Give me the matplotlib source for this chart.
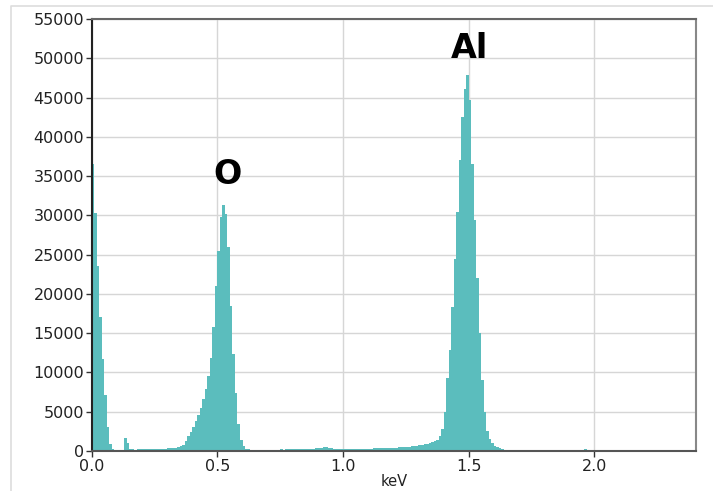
import numpy as np
import matplotlib
matplotlib.use("Agg")
import matplotlib.pyplot as plt
from matplotlib.lines import Line2D

# EDS spectrum: counts per 10 eV channel, starting at 0 keV
channel_start = 0.0
channel_width = 0.01
counts = [
    36500, 30300, 23600, 17100, 11700, 7100, 3000, 900, 200, 0,          # 0.00
    0, 0, 0, 1600, 1000, 300, 200, 190, 200, 210,                         # 0.10
    200, 210, 220, 210, 230, 250, 280, 290, 280, 300,                     # 0.20
    320, 350, 380, 420, 480, 600, 800, 1250, 1850, 2400,                  # 0.30
    3100, 3800, 4600, 5500, 6600, 7900, 9500, 11800, 15800, 21000,        # 0.40
    25500, 29800, 31300, 30200, 26000, 18500, 12300, 7400, 3500, 1400,    # 0.50
    600, 300, 200, 180, 180, 170, 180, 170, 160, 170,                     # 0.60
    180, 170, 180, 190, 180, 200, 190, 200, 210, 220,                     # 0.70
    230, 220, 240, 230, 250, 260, 270, 280, 300, 320,                     # 0.80
    350, 400, 450, 480, 420, 360, 300, 260, 240, 230,                     # 0.90
    220, 230, 240, 230, 250, 260, 270, 280, 290, 300,                     # 1.00
    300, 310, 320, 330, 340, 350, 360, 380, 390, 400,                     # 1.10
    420, 440, 460, 480, 500, 530, 560, 600, 640, 680,                     # 1.20
    730, 790, 850, 920, 1000, 1100, 1250, 1400, 1900, 2800,               # 1.30
    5000, 9300, 12800, 18300, 24400, 30400, 37000, 42500, 46100, 47900,   # 1.40
    44700, 36500, 29400, 22000, 15000, 9000, 5000, 2500, 1500, 1000,      # 1.50
    700, 450, 350, 220, 160, 130, 110, 100, 90, 90,                       # 1.60
    80, 80, 70, 80, 70, 70, 80, 70, 60, 150,                              # 1.70
    70, 60, 70, 60, 70, 60, 60, 70, 60, 60,                               # 1.80
    60, 70, 60, 60, 70, 180, 200, 80, 60, 60,                             # 1.90
    60, 60, 50, 60, 50, 60, 50, 60, 150, 50,                              # 2.00
    50, 160, 50, 50, 40, 50, 40, 140, 40, 40,                            # 2.10
    40, 40, 130, 40, 30, 40, 30, 30, 30, 150,                             # 2.20
    30, 140, 20, 10, 10, 0, 0, 0, 0, 0,                                   # 2.30
]

# Element line labels and their positions (keV, counts)
peak_labels = ["O", "Al"]
peak_label_x = [0.540, 1.503]
peak_label_y = [35200, 51300]

x_ticks = [0.0, 0.5, 1.0, 1.5, 2.0]
x_tick_labels = ["0.0", "0.5", "1.0", "1.5", "2.0"]
y_ticks = list(range(0, 55001, 5000))

bar_color = "#5bbdbd"

fig = plt.figure(figsize=(7.13, 4.91), dpi=100)
ax = fig.add_axes([91.7 / 713, 1 - 451 / 491, (696 - 91.7) / 713, (451 - 19) / 491])

edges = channel_start + channel_width * np.arange(len(counts) + 1)
ax.stairs(counts, edges, fill=True, color=bar_color, linewidth=0, zorder=2)

ax.set_xlim(0, 2.404)
ax.set_ylim(0, 55000)
ax.set_xticks(x_ticks)
ax.set_xticklabels(x_tick_labels)
ax.set_yticks(y_ticks)
ax.set_yticklabels([str(v) for v in y_ticks])

ax.set_axisbelow(True)
ax.grid(True, color="#d6d6d6", linewidth=1.0, zorder=0)

ax.tick_params(axis="both", direction="out", length=4, width=1, color="#333333",
               labelsize=11.5, labelcolor="#222222", pad=1.5)

ax.spines["left"].set_color("#222222")
ax.spines["bottom"].set_color("#555555")
ax.spines["top"].set_color("#666666")
ax.spines["right"].set_color("#888888")
for s in ax.spines.values():
    s.set_linewidth(1.5)
    s.set_zorder(3)

ax.set_xlabel("keV", fontsize=10.5, color="#222222", labelpad=0)

for text, x, y in zip(peak_labels, peak_label_x, peak_label_y):
    ax.text(x, y, text, fontsize=24, fontweight="bold", color="black",
            ha="center", va="center", zorder=4)

# light outer frame around the plot area
fig.add_artist(Line2D([11 / 713, 11 / 713, 1.0], [0.0, 1 - 6 / 491, 1 - 6 / 491],
                      transform=fig.transFigure, color="#dddddd", linewidth=1.2))

fig.savefig("out.png", dpi=100)
